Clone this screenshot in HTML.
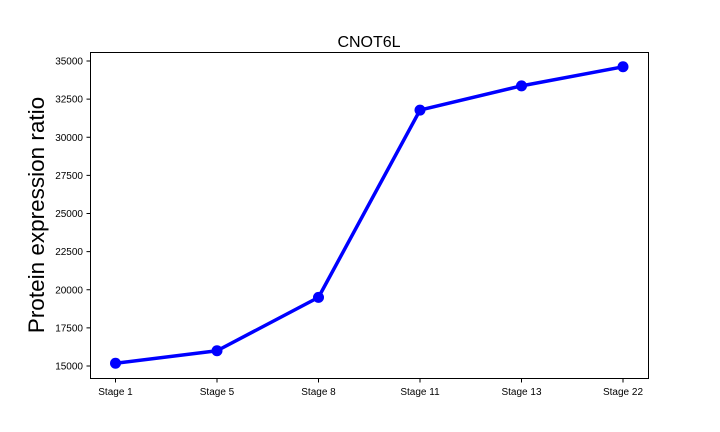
<!DOCTYPE html>
<html><head><meta charset="utf-8"><style>
body{margin:0;background:#fff;}
svg{display:block;font-family:"Liberation Sans","DejaVu Sans",sans-serif;}
</style></head><body>
<svg id="chart" width="720" height="432">
<g id="ticks"></g>
<path id="line" fill="none" stroke="#0000ff" stroke-width="3.5" stroke-linejoin="round"></path>
<g id="points"></g>
<rect x="90.5" y="52.5" width="558" height="326" fill="none" stroke="#000" stroke-width="1"></rect>
<text x="369" y="47" text-anchor="middle" font-size="16">CNOT6L</text>
<text transform="translate(44,215) rotate(-90)" text-anchor="middle" font-size="22.5">Protein expression ratio</text>
</svg>
<script>
const categories=["Stage 1","Stage 5","Stage 8","Stage 11","Stage 13","Stage 22"];
const values=[15180,16000,19500,31780,33370,34620];
const yTicks=[15000,17500,20000,22500,25000,27500,30000,32500,35000];
const ns="http://www.w3.org/2000/svg";
function x(i){return 115.5+i*(623-115.5)/(categories.length-1);}
function y(v){return 366-(v-15000)*(366-61)/20000;}
const tg=document.getElementById('ticks');
function mk(t,a){const e=document.createElementNS(ns,t);for(const k in a)e.setAttribute(k,a[k]);return e;}
yTicks.forEach(v=>{
 const l=mk('line',{x1:86.5,x2:90.5,y1:y(v),y2:y(v),stroke:'#000'});
 
 
 tg.appendChild(l);
 const t=mk('text',{x:83,y:y(v)+3.5,'text-anchor':'end','font-size':10});
 
 
 t.textContent=v;tg.appendChild(t);
});
categories.forEach((c,i)=>{
 const l=mk('line',{x1:x(i),x2:x(i),y1:378.5,y2:382.5,stroke:'#000'});
 
 
 tg.appendChild(l);
 const t=mk('text',{x:x(i),y:395,'text-anchor':'middle','font-size':10});
 
 
 t.textContent=c;tg.appendChild(t);
});
document.getElementById('line').setAttribute('d',values.map((v,i)=>(i?'L':'M')+x(i)+','+y(v)).join(' '));
const pg=document.getElementById('points');
values.forEach((v,i)=>{
 const c=mk('circle',{cx:x(i),cy:y(v),r:5.5,fill:'#0000ff'});
 
 
 pg.appendChild(c);
});
</script>
</body></html>
